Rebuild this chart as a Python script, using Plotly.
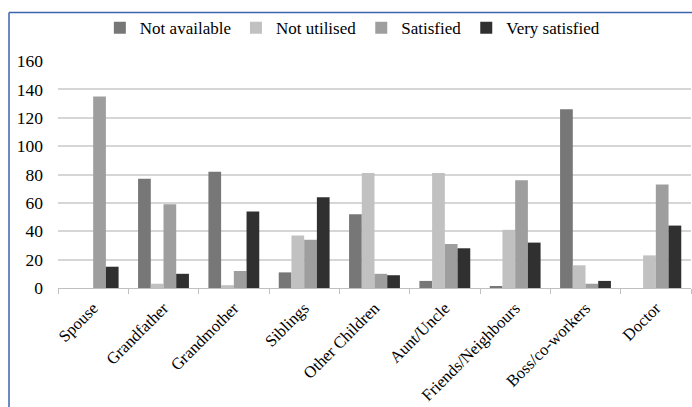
import plotly.graph_objects as go

categories = ["Spouse", "Grandfather", "Grandmother", "Siblings", "Other Children",
              "Aunt/Uncle", "Friends/Neighbours", "Boss/co-workers", "Doctor"]
not_available = [0, 77, 82, 11, 52, 5, 1, 126, 0]
not_utilised = [0, 3, 2, 37, 81, 81, 41, 16, 23]
satisfied = [135, 59, 12, 34, 10, 31, 76, 3, 73]
very_satisfied = [15, 10, 54, 64, 9, 28, 32, 5, 44]

series = [
    ("Not available", not_available, "#777777"),
    ("Not utilised", not_utilised, "#c1c1c1"),
    ("Satisfied", satisfied, "#9e9e9e"),
    ("Very satisfied", very_satisfied, "#303030"),
]

font_family = "Liberation Serif"

fig = go.Figure()
for name, vals, color in series:
    fig.add_trace(go.Bar(x=categories, y=vals, name=name,
                         marker=dict(color=color, line=dict(width=0))))

fig.update_layout(
    width=692, height=407,
    margin=dict(l=58, r=1, t=61, b=119, autoexpand=False),
    paper_bgcolor="white", plot_bgcolor="white",
    barmode="group", bargap=0.277, bargroupgap=0,
    font=dict(family=font_family, size=17, color="black"),
    legend=dict(orientation="h", x=0.465, xanchor="center", y=1.145, yanchor="middle",
                font=dict(family=font_family, size=17, color="black"),
                bgcolor="rgba(0,0,0,0)",
                itemwidth=30, traceorder="normal"),
    xaxis=dict(showline=True, linecolor="#c0c0c0", linewidth=1, automargin=False,
               ticks="outside", tickson="boundaries", ticklen=5, tickcolor="#c0c0c0",
               tickangle=-45, ticklabelstandoff=3,
               tickfont=dict(family=font_family, size=16.5, color="black"),
               showgrid=False),
    yaxis=dict(range=[0, 160], dtick=20, showgrid=True, gridcolor="#d6d6d6", gridwidth=1.5,
               zeroline=False, showline=False, ticks="", ticklabelstandoff=14, automargin=False,
               tickfont=dict(family=font_family, size=17.5, color="black")),
    shapes=[
        dict(type="line", xref="paper", yref="paper", x0=-0.0774, x1=-0.0774,
             y0=-1.0, y1=1.2137, line=dict(color="#3c63b0", width=1.5)),
        dict(type="line", xref="paper", yref="paper", x0=-0.0774, x1=1.2,
             y0=1.2137, y1=1.2137, line=dict(color="#3c63b0", width=1.5)),
    ],
)

fig.write_html("out.html")
